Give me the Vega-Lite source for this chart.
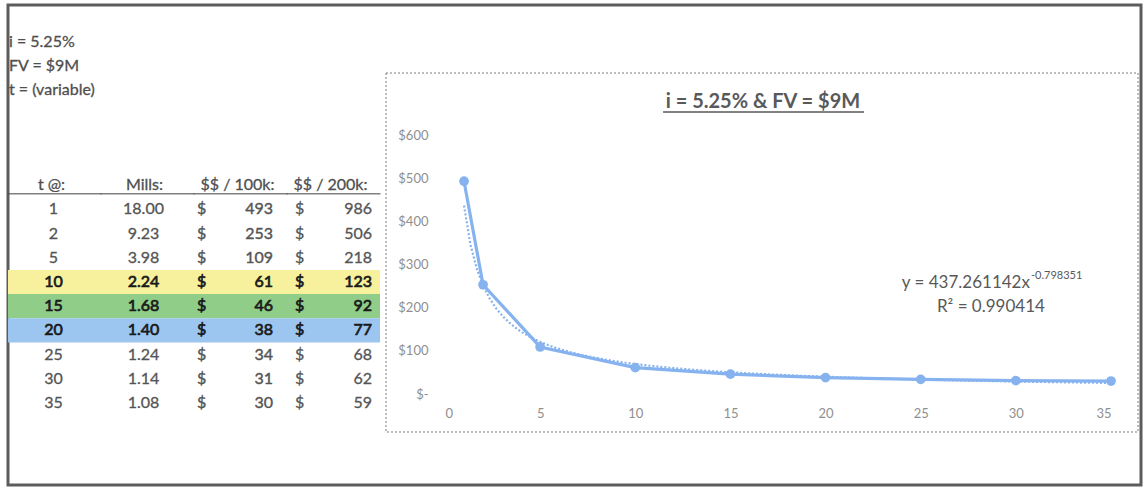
{
  "$schema": "https://vega.github.io/schema/vega-lite/v6.json",
  "width": 1133,
  "height": 480,
  "autosize": {"type": "none"},
  "padding": {"left": 8, "top": 5, "right": 2, "bottom": 4},
  "background": "white",
  "config": {
    "font": "Lato",
    "view": {"stroke": "#5c5c5c", "strokeWidth": 3},
    "text": {"font": "Lato"}
  },
  "datasets": {
    "rates": [
      {"t": 1, "mills": 18.00, "per100k": 493, "per200k": 986},
      {"t": 2, "mills": 9.23, "per100k": 253, "per200k": 506},
      {"t": 5, "mills": 3.98, "per100k": 109, "per200k": 218},
      {"t": 10, "mills": 2.24, "per100k": 61, "per200k": 123},
      {"t": 15, "mills": 1.68, "per100k": 46, "per200k": 92},
      {"t": 20, "mills": 1.40, "per100k": 38, "per200k": 77},
      {"t": 25, "mills": 1.24, "per100k": 34, "per200k": 68},
      {"t": 30, "mills": 1.14, "per100k": 31, "per200k": 62},
      {"t": 35, "mills": 1.08, "per100k": 30, "per200k": 59}
    ],
    "columns": [
      {"col": "t", "title": "t @:"},
      {"col": "mills", "title": "Mills:"},
      {"col": "per100k", "title": "$$ / 100k:"},
      {"col": "per200k", "title": "$$ / 200k:"}
    ],
    "params": [
      {"key": "i", "label": "i = 5.25%"},
      {"key": "fv", "label": "FV = $9M"},
      {"key": "tvar", "label": "t = (variable)"}
    ]
  },
  "layer": [
    {
      "layer": [
        {
          "data": {"name": "rates"},
          "transform": [
            {"filter": "datum.t == 10 || datum.t == 15 || datum.t == 20"},
            {"fold": ["t", "mills", "per100k", "per200k"], "as": ["col", "cellValue"]}
          ],
          "mark": {"type": "rect", "strokeWidth": 0},
          "encoding": {
            "x": {"field": "col", "type": "ordinal", "axis": null,
                  "scale": {"type": "band", "domain": ["t", "mills", "per100k", "per200k"], "range": [0, 372], "paddingInner": 0, "paddingOuter": 0}},
            "y": {"field": "t", "type": "ordinal", "axis": null,
                  "scale": {"type": "band", "domain": ["i", "fv", "tvar", "blank1", "blank2", "blank3", "head", 1, 2, 5, 10, 15, 20, 25, 30, 35], "range": [23, 410], "paddingInner": 0, "paddingOuter": 0}},
            "color": {"field": "t", "type": "nominal", "legend": null,
                      "scale": {"domain": [10, 15, 20], "range": ["#f7f09c", "#8fcd88", "#9cc6f0"]}}
          }
        },
        {
          "data": {"name": "columns"},
          "mark": {"type": "tick", "orient": "horizontal", "thickness": 1.5, "size": 94, "color": "#4a4a4a"},
          "encoding": {
            "x": {"field": "col", "type": "ordinal", "axis": null, "bandPosition": 0.5,
                  "scale": {"type": "band", "domain": ["t", "mills", "per100k", "per200k"], "range": [0, 372], "paddingInner": 0, "paddingOuter": 0}},
            "y": {"datum": "head", "type": "ordinal", "axis": null, "bandPosition": 0.85,
                  "scale": {"type": "band", "domain": ["i", "fv", "tvar", "blank1", "blank2", "blank3", "head", 1, 2, 5, 10, 15, 20, 25, 30, 35], "range": [23, 410], "paddingInner": 0, "paddingOuter": 0}}
          }
        },
        {
          "data": {"name": "columns"},
          "mark": {"type": "text", "fontSize": 16, "color": "#4f4f4f", "stroke": "#4f4f4f", "strokeWidth": 0.3, "dx": -3, "baseline": "middle"},
          "encoding": {
            "x": {"field": "col", "type": "ordinal", "axis": null, "bandPosition": 0.5,
                  "scale": {"type": "band", "domain": ["t", "mills", "per100k", "per200k"], "range": [0, 372], "paddingInner": 0, "paddingOuter": 0}},
            "y": {"datum": "head", "type": "ordinal", "axis": null, "bandPosition": 0.5,
                  "scale": {"type": "band", "domain": ["i", "fv", "tvar", "blank1", "blank2", "blank3", "head", 1, 2, 5, 10, 15, 20, 25, 30, 35], "range": [23, 410], "paddingInner": 0, "paddingOuter": 0}},
            "text": {"field": "title", "type": "nominal"}
          }
        },
        {
          "data": {"name": "params"},
          "mark": {"type": "text", "fontSize": 16, "color": "#4f4f4f", "stroke": "#4f4f4f", "strokeWidth": 0.3, "align": "left", "dx": 1, "dy": 2, "baseline": "middle"},
          "encoding": {
            "x": {"datum": "t", "type": "ordinal", "axis": null, "bandPosition": 0,
                  "scale": {"type": "band", "domain": ["t", "mills", "per100k", "per200k"], "range": [0, 372], "paddingInner": 0, "paddingOuter": 0}},
            "y": {"field": "key", "type": "ordinal", "axis": null, "bandPosition": 0.5,
                  "scale": {"type": "band", "domain": ["i", "fv", "tvar", "blank1", "blank2", "blank3", "head", 1, 2, 5, 10, 15, 20, 25, 30, 35], "range": [23, 410], "paddingInner": 0, "paddingOuter": 0}},
            "text": {"field": "label", "type": "nominal"}
          }
        },
        {
          "data": {"name": "rates"},
          "mark": {"type": "text", "fontSize": 16, "dx": -1, "baseline": "middle"},
          "encoding": {
            "x": {"datum": "t", "type": "ordinal", "axis": null, "bandPosition": 0.5,
                  "scale": {"type": "band", "domain": ["t", "mills", "per100k", "per200k"], "range": [0, 372], "paddingInner": 0, "paddingOuter": 0}},
            "y": {"field": "t", "type": "ordinal", "axis": null, "bandPosition": 0.5,
                  "scale": {"type": "band", "domain": ["i", "fv", "tvar", "blank1", "blank2", "blank3", "head", 1, 2, 5, 10, 15, 20, 25, 30, 35], "range": [23, 410], "paddingInner": 0, "paddingOuter": 0}},
            "text": {"field": "t", "type": "quantitative"},
            "color": {"condition": {"test": "datum.t == 10 || datum.t == 15 || datum.t == 20", "value": "#1a1a1a"}, "value": "#555555"},
            "stroke": {"condition": {"test": "datum.t == 10 || datum.t == 15 || datum.t == 20", "value": "#1a1a1a"}, "value": "#555555"},
            "strokeWidth": {"condition": {"test": "datum.t == 10 || datum.t == 15 || datum.t == 20", "value": 0.7}, "value": 0.3}
          }
        },
        {
          "data": {"name": "rates"},
          "mark": {"type": "text", "fontSize": 16, "dx": -4, "baseline": "middle"},
          "encoding": {
            "x": {"datum": "mills", "type": "ordinal", "axis": null, "bandPosition": 0.5,
                  "scale": {"type": "band", "domain": ["t", "mills", "per100k", "per200k"], "range": [0, 372], "paddingInner": 0, "paddingOuter": 0}},
            "y": {"field": "t", "type": "ordinal", "axis": null, "bandPosition": 0.5,
                  "scale": {"type": "band", "domain": ["i", "fv", "tvar", "blank1", "blank2", "blank3", "head", 1, 2, 5, 10, 15, 20, 25, 30, 35], "range": [23, 410], "paddingInner": 0, "paddingOuter": 0}},
            "text": {"field": "mills", "type": "quantitative", "format": ".2f"},
            "color": {"condition": {"test": "datum.t == 10 || datum.t == 15 || datum.t == 20", "value": "#1a1a1a"}, "value": "#555555"},
            "stroke": {"condition": {"test": "datum.t == 10 || datum.t == 15 || datum.t == 20", "value": "#1a1a1a"}, "value": "#555555"},
            "strokeWidth": {"condition": {"test": "datum.t == 10 || datum.t == 15 || datum.t == 20", "value": 0.7}, "value": 0.3}
          }
        },
        {
          "data": {"name": "rates"},
          "mark": {"type": "text", "text": "$", "fontSize": 16, "align": "left", "dx": 3, "baseline": "middle"},
          "encoding": {
            "x": {"datum": "per100k", "type": "ordinal", "axis": null, "bandPosition": 0,
                  "scale": {"type": "band", "domain": ["t", "mills", "per100k", "per200k"], "range": [0, 372], "paddingInner": 0, "paddingOuter": 0}},
            "y": {"field": "t", "type": "ordinal", "axis": null, "bandPosition": 0.5,
                  "scale": {"type": "band", "domain": ["i", "fv", "tvar", "blank1", "blank2", "blank3", "head", 1, 2, 5, 10, 15, 20, 25, 30, 35], "range": [23, 410], "paddingInner": 0, "paddingOuter": 0}},
            "color": {"condition": {"test": "datum.t == 10 || datum.t == 15 || datum.t == 20", "value": "#1a1a1a"}, "value": "#555555"},
            "stroke": {"condition": {"test": "datum.t == 10 || datum.t == 15 || datum.t == 20", "value": "#1a1a1a"}, "value": "#555555"},
            "strokeWidth": {"condition": {"test": "datum.t == 10 || datum.t == 15 || datum.t == 20", "value": 0.7}, "value": 0.4}
          }
        },
        {
          "data": {"name": "rates"},
          "mark": {"type": "text", "fontSize": 16, "align": "right", "dx": -14, "baseline": "middle"},
          "encoding": {
            "x": {"datum": "per100k", "type": "ordinal", "axis": null, "bandPosition": 1,
                  "scale": {"type": "band", "domain": ["t", "mills", "per100k", "per200k"], "range": [0, 372], "paddingInner": 0, "paddingOuter": 0}},
            "y": {"field": "t", "type": "ordinal", "axis": null, "bandPosition": 0.5,
                  "scale": {"type": "band", "domain": ["i", "fv", "tvar", "blank1", "blank2", "blank3", "head", 1, 2, 5, 10, 15, 20, 25, 30, 35], "range": [23, 410], "paddingInner": 0, "paddingOuter": 0}},
            "text": {"field": "per100k", "type": "quantitative", "format": ",.0f"},
            "color": {"condition": {"test": "datum.t == 10 || datum.t == 15 || datum.t == 20", "value": "#1a1a1a"}, "value": "#555555"},
            "stroke": {"condition": {"test": "datum.t == 10 || datum.t == 15 || datum.t == 20", "value": "#1a1a1a"}, "value": "#555555"},
            "strokeWidth": {"condition": {"test": "datum.t == 10 || datum.t == 15 || datum.t == 20", "value": 0.7}, "value": 0.4}
          }
        },
        {
          "data": {"name": "rates"},
          "mark": {"type": "text", "text": "$", "fontSize": 16, "align": "left", "dx": 8, "baseline": "middle"},
          "encoding": {
            "x": {"datum": "per200k", "type": "ordinal", "axis": null, "bandPosition": 0,
                  "scale": {"type": "band", "domain": ["t", "mills", "per100k", "per200k"], "range": [0, 372], "paddingInner": 0, "paddingOuter": 0}},
            "y": {"field": "t", "type": "ordinal", "axis": null, "bandPosition": 0.5,
                  "scale": {"type": "band", "domain": ["i", "fv", "tvar", "blank1", "blank2", "blank3", "head", 1, 2, 5, 10, 15, 20, 25, 30, 35], "range": [23, 410], "paddingInner": 0, "paddingOuter": 0}},
            "color": {"condition": {"test": "datum.t == 10 || datum.t == 15 || datum.t == 20", "value": "#1a1a1a"}, "value": "#555555"},
            "stroke": {"condition": {"test": "datum.t == 10 || datum.t == 15 || datum.t == 20", "value": "#1a1a1a"}, "value": "#555555"},
            "strokeWidth": {"condition": {"test": "datum.t == 10 || datum.t == 15 || datum.t == 20", "value": 0.7}, "value": 0.3}
          }
        },
        {
          "data": {"name": "rates"},
          "mark": {"type": "text", "fontSize": 16, "align": "right", "dx": -8, "baseline": "middle"},
          "encoding": {
            "x": {"datum": "per200k", "type": "ordinal", "axis": null, "bandPosition": 1,
                  "scale": {"type": "band", "domain": ["t", "mills", "per100k", "per200k"], "range": [0, 372], "paddingInner": 0, "paddingOuter": 0}},
            "y": {"field": "t", "type": "ordinal", "axis": null, "bandPosition": 0.5,
                  "scale": {"type": "band", "domain": ["i", "fv", "tvar", "blank1", "blank2", "blank3", "head", 1, 2, 5, 10, 15, 20, 25, 30, 35], "range": [23, 410], "paddingInner": 0, "paddingOuter": 0}},
            "text": {"field": "per200k", "type": "quantitative", "format": ",.0f"},
            "color": {"condition": {"test": "datum.t == 10 || datum.t == 15 || datum.t == 20", "value": "#1a1a1a"}, "value": "#555555"},
            "stroke": {"condition": {"test": "datum.t == 10 || datum.t == 15 || datum.t == 20", "value": "#1a1a1a"}, "value": "#555555"},
            "strokeWidth": {"condition": {"test": "datum.t == 10 || datum.t == 15 || datum.t == 20", "value": 0.7}, "value": 0.3}
          }
        }
      ]
    },
    {
      "layer": [
        {
          "data": {"values": [{}]},
          "mark": {"type": "rect", "fill": "transparent", "stroke": "#7a7a7a", "strokeWidth": 1, "strokeDash": [2, 2]},
          "encoding": {
            "x": {"datum": -3.1, "type": "quantitative", "scale": {"domain": [0, 35], "range": [437, 1103], "nice": false, "zero": false}},
            "x2": {"datum": 36.42},
            "y": {"datum": -88, "type": "quantitative", "scale": {"domain": [0, 600], "range": [389, 130], "nice": false, "zero": false}},
            "y2": {"datum": 743.6}
          }
        },
        {
          "data": {"name": "rates"},
          "transform": [
            {"regression": "per100k", "on": "t", "method": "pow", "extent": [1, 35]}
          ],
          "mark": {"type": "line", "color": "#86b3ef", "strokeWidth": 2.2, "strokeDash": [2, 2]},
          "encoding": {
            "x": {"field": "t", "type": "quantitative", "scale": {"domain": [0, 35], "range": [437, 1103], "nice": false, "zero": false}},
            "y": {"field": "per100k", "type": "quantitative", "scale": {"domain": [0, 600], "range": [389, 130], "nice": false, "zero": false}}
          }
        },
        {
          "data": {"name": "rates"},
          "mark": {"type": "line", "color": "#86b3ef", "strokeWidth": 3.2, "point": {"filled": true, "size": 95, "color": "#86b3ef"}},
          "encoding": {
            "x": {"field": "t", "type": "quantitative",
                  "scale": {"domain": [0, 35], "range": [437, 1103], "nice": false, "zero": false},
                  "axis": {"orient": "bottom", "title": null, "values": [0, 5, 10, 15, 20, 25, 30, 35], "domain": false, "ticks": false, "tickSize": 0, "grid": false, "labelPadding": 2, "offset": -80, "labelFont": "Lato", "labelFontSize": 13, "labelColor": "#8f8f8f"}},
            "y": {"field": "per100k", "type": "quantitative",
                  "scale": {"domain": [0, 600], "range": [389, 130], "nice": false, "zero": false},
                  "axis": {"orient": "left", "title": null, "values": [0, 100, 200, 300, 400, 500, 600], "labelExpr": "datum.value === 0 ? '$-' : '$' + datum.value", "domain": false, "ticks": false, "tickSize": 0, "grid": false, "labelPadding": 2, "offset": -422, "labelFont": "Lato", "labelFontSize": 13, "labelColor": "#8f8f8f"}}
          }
        },
        {
          "data": {"values": [{"label": "i = 5.25% & FV = $9M"}]},
          "mark": {"type": "text", "fontSize": 20, "fontWeight": "bold", "color": "#595959", "baseline": "middle"},
          "encoding": {
            "x": {"datum": 16.71, "type": "quantitative"},
            "y": {"datum": 677, "type": "quantitative"},
            "text": {"field": "label", "type": "nominal"}
          }
        },
        {
          "data": {"values": [{}]},
          "mark": {"type": "rule", "color": "#595959", "strokeWidth": 1.5},
          "encoding": {
            "x": {"datum": 11.46, "type": "quantitative"},
            "x2": {"datum": 22.02},
            "y": {"datum": 653.3, "type": "quantitative"}
          }
        },
        {
          "data": {"values": [{"label": "y = 437.261142x"}]},
          "mark": {"type": "text", "fontSize": 17, "color": "#595959", "align": "right", "baseline": "middle"},
          "encoding": {
            "x": {"datum": 30.74, "type": "quantitative"},
            "y": {"datum": 256.4, "type": "quantitative"},
            "text": {"field": "label", "type": "nominal"}
          }
        },
        {
          "data": {"values": [{"label": "-0.798351"}]},
          "mark": {"type": "text", "fontSize": 11, "color": "#595959", "align": "left", "baseline": "middle", "dx": 1, "dy": -7},
          "encoding": {
            "x": {"datum": 30.74, "type": "quantitative"},
            "y": {"datum": 256.4, "type": "quantitative"},
            "text": {"field": "label", "type": "nominal"}
          }
        },
        {
          "data": {"values": [{"label": "R² = 0.990414"}]},
          "mark": {"type": "text", "fontSize": 17, "color": "#595959", "align": "center", "baseline": "middle"},
          "encoding": {
            "x": {"datum": 28.69, "type": "quantitative"},
            "y": {"datum": 201.5, "type": "quantitative"},
            "text": {"field": "label", "type": "nominal"}
          }
        }
      ]
    }
  ],
  "resolve": {
    "scale": {"x": "independent", "y": "independent"},
    "axis": {"x": "independent", "y": "independent"}
  }
}
